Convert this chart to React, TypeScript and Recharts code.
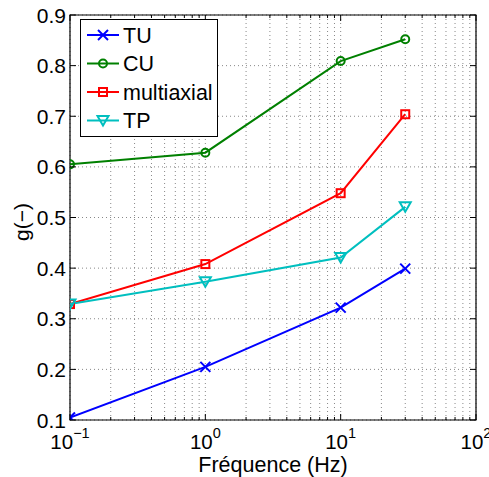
import React from 'react';
import {
  LineChart, Line, XAxis, YAxis, CartesianGrid, ReferenceArea,
} from 'recharts';

// frequencies (Hz) and g(-) values
const frequencies = [0.1, 1, 10, 30];
const tuValues = [0.105, 0.205, 0.322, 0.399];
const cuValues = [0.605, 0.628, 0.809, 0.852];
const multiaxialValues = [0.329, 0.408, 0.548, 0.704];
const tpValues = [0.329, 0.373, 0.421, 0.521];

const xMajorTicks = [0.1, 1, 10, 100];
const xMajorLabels = ['\u22121', '0', '1', '2'];
const xAllTicks = [
  0.1, 0.2, 0.3, 0.4, 0.5, 0.6, 0.7, 0.8, 0.9,
  1, 2, 3, 4, 5, 6, 7, 8, 9,
  10, 20, 30, 40, 50, 60, 70, 80, 90, 100,
];
const yTicks = [0.1, 0.2, 0.3, 0.4, 0.5, 0.6, 0.7, 0.8, 0.9];

const FONT = '"Liberation Sans", Arial, Helvetica, sans-serif';
const PLOT_TOP = 15;
const PLOT_BOTTOM = 420;
const PLOT_LEFT = 70;
const PLOT_RIGHT = 476;

const chartData = frequencies.map((f, i) => ({
  f,
  TU: tuValues[i],
  CU: cuValues[i],
  multiaxial: multiaxialValues[i],
  TP: tpValues[i],
}));

const series = [
  { key: 'TU', color: '#0000ff', marker: 'x' },
  { key: 'CU', color: '#008000', marker: 'o' },
  { key: 'multiaxial', color: '#ff0000', marker: 's' },
  { key: 'TP', color: '#00bfbf', marker: 'v' },
];

function Marker({ type, cx, cy, color }: any) {
  if (cx == null || cy == null) return null;
  if (type === 'x') {
    const r = 5;
    return (
      <g stroke={color} strokeWidth={2}>
        <line x1={cx - r} y1={cy - r} x2={cx + r} y2={cy + r} />
        <line x1={cx - r} y1={cy + r} x2={cx + r} y2={cy - r} />
      </g>
    );
  }
  if (type === 'o') {
    return <circle cx={cx} cy={cy} r={4} fill="none" stroke={color} strokeWidth={2} />;
  }
  if (type === 's') {
    return <rect x={cx - 4} y={cy - 4} width={8} height={8} fill="none" stroke={color} strokeWidth={2} />;
  }
  return (
    <polygon
      points={`${cx - 5.5},${cy - 4.5} ${cx + 5.5},${cy - 4.5} ${cx},${cy + 5}`}
      fill="none" stroke={color} strokeWidth={2}
    />
  );
}

function BottomTick(props: any) {
  const { payload } = props;
  const x = payload.coordinate;
  const idx = xMajorTicks.indexOf(payload.value);
  const major = idx >= 0;
  const len = major ? 6 : 3;
  return (
    <g>
      <line x1={x} y1={PLOT_BOTTOM} x2={x} y2={PLOT_BOTTOM - len} stroke="#000" />
      <line x1={x} y1={PLOT_TOP} x2={x} y2={PLOT_TOP + len} stroke="#000" />
      {major && (
        <text x={x} y={449} textAnchor="middle" fontFamily={FONT} fontSize={20.5} fill="#000">
          10
          <tspan dy={-11} fontSize={14.5}>{xMajorLabels[idx]}</tspan>
        </text>
      )}
    </g>
  );
}

function LeftTick(props: any) {
  const { payload } = props;
  const y = payload.coordinate;
  return (
    <g>
      <line x1={PLOT_LEFT} y1={y} x2={PLOT_LEFT + 6} y2={y} stroke="#000" />
      <line x1={PLOT_RIGHT} y1={y} x2={PLOT_RIGHT - 6} y2={y} stroke="#000" />
      <text x={66} y={y} dy="0.36em" textAnchor="end" fontFamily={FONT} fontSize={21} fill="#000">
        {payload.value.toFixed(1)}
      </text>
    </g>
  );
}

function LegendBox() {
  return (
    <svg width={138} height={118} style={{ display: 'block' }}>
      <rect x={0.5} y={0.5} width={137} height={117} fill="#fff" stroke="#000" />
      {series.map((s, i) => {
        const cy = 16 + i * 28.5;
        return (
          <g key={s.key}>
            <line x1={7} y1={cy} x2={39} y2={cy} stroke={s.color} strokeWidth={2} />
            <Marker type={s.marker} cx={23} cy={cy} color={s.color} />
            <text x={43} y={cy} dy="0.36em" fontFamily={FONT} fontSize={21.5} fill="#000">
              {s.key}
            </text>
          </g>
        );
      })}
    </svg>
  );
}

export default function App() {
  return (
    <div style={{ position: 'absolute', left: 0, top: 0, width: 489, height: 477, background: '#fff' }}>
      <LineChart
        width={489}
        height={477}
        data={chartData}
        margin={{ top: PLOT_TOP, right: 489 - PLOT_RIGHT, left: 0, bottom: 0 }}
      >
        <CartesianGrid stroke="#888" strokeDasharray="1 3" strokeWidth={1} />
        <XAxis
          dataKey="f"
          type="number"
          scale="log"
          domain={[0.1, 100]}
          allowDataOverflow
          ticks={xAllTicks}
          interval={0}
          height={477 - PLOT_BOTTOM}
          axisLine={false}
          tickLine={false}
          tick={<BottomTick />}
        />
        <YAxis
          type="number"
          domain={[0.1, 0.9]}
          allowDataOverflow
          ticks={yTicks}
          interval={0}
          width={PLOT_LEFT}
          axisLine={false}
          tickLine={false}
          tick={<LeftTick />}
        />
        <ReferenceArea x1={0.1} x2={100} y1={0.1} y2={0.9} fill="none" stroke="#000" strokeWidth={1.2} ifOverflow="visible" />
        {series.map((s) => (
          <Line
            key={s.key}
            dataKey={s.key}
            stroke={s.color}
            strokeWidth={2}
            isAnimationActive={false}
            dot={(p: any) => <Marker key={`${s.key}-${p.index}`} type={s.marker} cx={p.cx} cy={p.cy} color={s.color} />}
            activeDot={false}
          />
        ))}
        <text x={273} y={472} textAnchor="middle" fontFamily={FONT} fontSize={21.5} fill="#000">
          Fréquence (Hz)
        </text>
        <text
          x={29}
          y={222}
          transform="rotate(-90 29 222)"
          textAnchor="middle"
          fontFamily={FONT}
          fontSize={21}
          fill="#000"
        >
          g(−)
        </text>
      </LineChart>
      <div style={{ position: 'absolute', left: 80, top: 19 }}>
        <LegendBox />
      </div>
    </div>
  );
}
